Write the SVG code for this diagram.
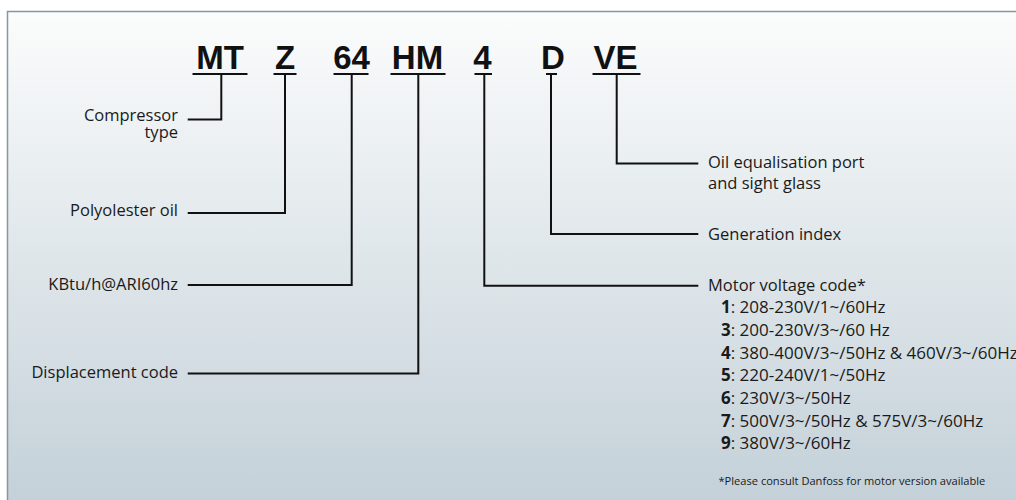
<svg xmlns="http://www.w3.org/2000/svg" width="1016" height="500" viewBox="0 0 1016 500">
<defs>
<linearGradient id="bg" x1="0" y1="0" x2="0" y2="1">
<stop offset="0" stop-color="#fbfcfc"/>
<stop offset="1" stop-color="#c0ced6"/>
</linearGradient>
<style>
.code{font-family:"Liberation Sans",Arial,sans-serif;font-weight:bold;font-size:33px;fill:#111;text-anchor:middle}
.lbl{font-family:"Open Sans","Noto Sans",sans-serif;font-size:16.5px;fill:#1a1a1a}
.li{font-size:17px}
.l{text-anchor:end}
.b{font-weight:bold}
.note{font-family:"Open Sans","Noto Sans",sans-serif;font-size:11.1px;fill:#1a1a1a}
.ln{fill:none;stroke:#111;stroke-width:2}
</style>
</defs>
<rect x="0" y="0" width="1016" height="500" fill="#ffffff"/>
<rect x="7.5" y="11.5" width="1030" height="520" fill="url(#bg)" stroke="#8696a0" stroke-width="1.5"/>

<g id="code-MT"><text class="code" x="220" y="69">MT</text><line class="ln" x1="192.5" y1="74" x2="247.5" y2="74"/></g>
<g id="code-Z"><text class="code" x="285" y="69">Z</text><line class="ln" x1="273.5" y1="74" x2="296.5" y2="74"/></g>
<g id="code-64"><text class="code" x="351.5" y="69">64</text><line class="ln" x1="333.5" y1="74" x2="368.5" y2="74"/></g>
<g id="code-HM"><text class="code" x="417.5" y="69">HM</text><line class="ln" x1="390.5" y1="74" x2="445.5" y2="74"/></g>
<g id="code-4"><text class="code" x="482.5" y="69">4</text><line class="ln" x1="474.5" y1="74" x2="492" y2="74"/></g>
<g id="code-D"><text class="code" x="553" y="69">D</text><line class="ln" x1="546" y1="74" x2="557" y2="74"/></g>
<g id="code-VE"><text class="code" x="615.5" y="69">VE</text><line class="ln" x1="592.5" y1="74" x2="640.5" y2="74"/></g>

<g id="connectors">
<polyline class="ln" points="221.3,74 221.3,119.5 187.7,119.5"/>
<polyline class="ln" points="285,74 285,213 187.7,213"/>
<polyline class="ln" points="351.7,74 351.7,285 187.7,285"/>
<polyline class="ln" points="418.3,74 418.3,373.5 187.7,373.5"/>
<polyline class="ln" points="616.7,74 616.7,163.5 698.3,163.5"/>
<polyline class="ln" points="551,74 551,234 698.3,234"/>
<polyline class="ln" points="484.3,74 484.3,285.7 698.3,285.7"/>
</g>

<g id="label-compressor-type"><text class="lbl l" x="178" y="121.3">Compressor</text><text class="lbl l" x="178" y="138">type</text></g>
<g id="label-polyolester"><text class="lbl l" x="178" y="216">Polyolester oil</text></g>
<g id="label-kbtu"><text class="lbl l" x="178" y="289.5">KBtu/h@ARI60hz</text></g>
<g id="label-displacement"><text class="lbl l" x="178" y="377.5">Displacement code</text></g>
<g id="label-oil-eq"><text class="lbl" x="708" y="168.3">Oil equalisation port</text><text class="lbl" x="708" y="189.3">and sight glass</text></g>
<g id="label-generation"><text class="lbl" x="708" y="240">Generation index</text></g>
<g id="label-motor">
<text class="lbl" x="708" y="290.7">Motor voltage code*</text>
<text class="lbl li" x="721" y="313.3"><tspan class="b">1</tspan>: 208-230V/1~/60Hz</text>
<text class="lbl li" x="721" y="336"><tspan class="b">3</tspan>: 200-230V/3~/60 Hz</text>
<text class="lbl li" x="721" y="358.5"><tspan class="b">4</tspan>: 380-400V/3~/50Hz &amp; 460V/3~/60Hz</text>
<text class="lbl li" x="721" y="381"><tspan class="b">5</tspan>: 220-240V/1~/50Hz</text>
<text class="lbl li" x="721" y="403.5"><tspan class="b">6</tspan>: 230V/3~/50Hz</text>
<text class="lbl li" x="721" y="426.5"><tspan class="b">7</tspan>: 500V/3~/50Hz &amp; 575V/3~/60Hz</text>
<text class="lbl li" x="721" y="449.3"><tspan class="b">9</tspan>: 380V/3~/60Hz</text>
<text class="note" x="718.5" y="485">*Please consult Danfoss for motor version available</text>
</g>
</svg>
